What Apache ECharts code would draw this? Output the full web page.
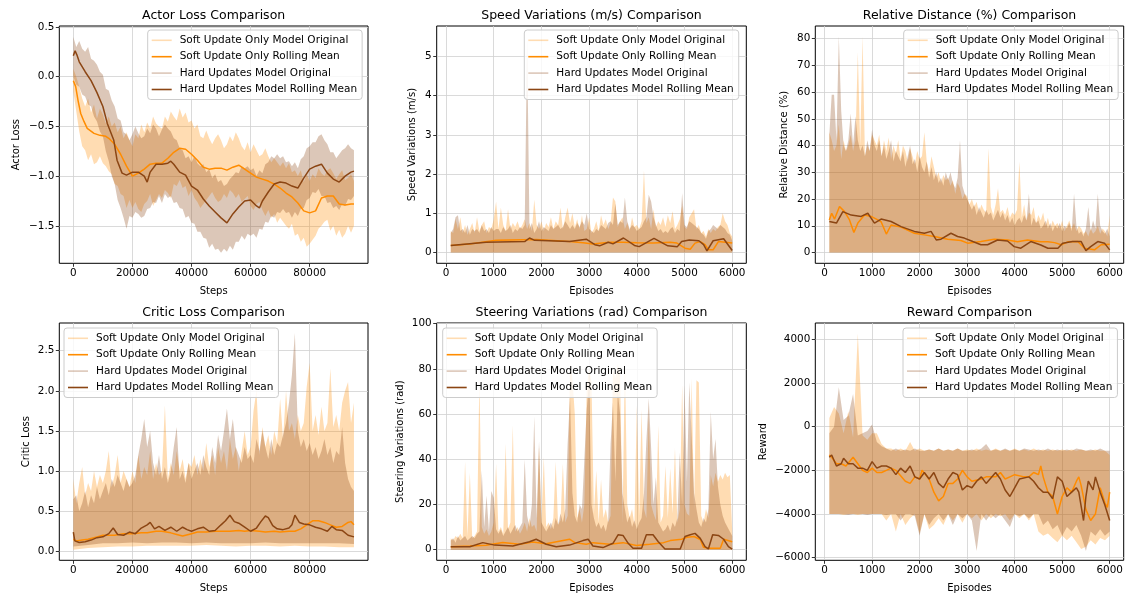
<!DOCTYPE html>
<html><head><meta charset="utf-8">
<script src="https://cdn.jsdelivr.net/npm/echarts@6/dist/echarts.min.js"></script>
<style>html,body{margin:0;padding:0;background:#fff}#c{width:1127px;height:597px}</style>
</head><body><div id="c"></div>
<script>
// ---------- tick labels ----------
const stepTicks = [0, 20000, 40000, 60000, 80000];
const episodeTicks = [0, 1000, 2000, 3000, 4000, 5000, 6000];
const actorTicks = [-1.5, -1.0, -0.5, 0.0, 0.5];
const speedTicks = [0, 1, 2, 3, 4, 5];
const relTicks = [0, 10, 20, 30, 40, 50, 60, 70, 80];
const criticTicks = [0.0, 0.5, 1.0, 1.5, 2.0, 2.5];
const steerTicks = [0, 20, 40, 60, 80, 100];
const rewardTicks = [-6000, -4000, -2000, 0, 2000, 4000];

const seriesNames = ['Soft Update Only Model Original', 'Soft Update Only Rolling Mean', 'Hard Updates Model Original', 'Hard Updates Model Rolling Mean'];

// ---------- sampling grids (x positions) ----------
function grid(a, b, s) { const r = []; for (let v = a; v <= b; v += s) r.push(v); return r; }
const stepsX1000 = grid(0, 95000, 1000);
const stepsX5000 = grid(0, 95000, 5000);
const episodesX50 = grid(100, 6000, 50);
const episodesX100 = grid(100, 6000, 100);

// ---------- Actor loss ----------
const actorSoftUpper = [0.08,0.0,-0.1,-0.22,-0.3,-0.22,-0.36,-0.28,-0.42,-0.32, -0.38,-0.47,-0.4,-0.5,-0.46,-0.56,-0.5,-0.62,-0.56,-0.64, -0.7,-0.58,-0.62,-0.48,-0.56,-0.46,-0.52,-0.4,-0.47,-0.5, -0.52,-0.4,-0.45,-0.35,-0.4,-0.44,-0.32,-0.41,-0.36,-0.46, -0.44,-0.52,-0.48,-0.6,-0.62,-0.54,-0.62,-0.68,-0.62,-0.58, -0.64,-0.72,-0.68,-0.6,-0.65,-0.56,-0.62,-0.7,-0.74,-0.66, -0.76,-0.68,-0.74,-0.8,-0.78,-0.72,-0.8,-0.86,-0.82,-0.86, -0.9,-0.86,-0.92,-0.87,-0.96,-0.94,-1.0,-0.94,-1.06,-0.98, -1.05,-0.98,-1.02,-0.92,-0.97,-1.0,-0.94,-0.92,-0.97,-1.03, -0.98,-0.94,-1.04,-1.02,-0.98,-1.05];
const actorSoftLower = [-0.15,-0.35,-0.55,-0.7,-0.74,-0.84,-0.78,-0.88,-0.86,-0.8, -0.87,-0.9,-0.95,-0.98,-1.08,-1.1,-1.18,-1.2,-1.32,-1.24, -1.32,-1.26,-1.33,-1.36,-1.28,-1.25,-1.18,-1.3,-1.24,-1.18, -1.22,-1.14,-1.17,-1.22,-1.08,-1.1,-1.04,-1.12,-1.1,-1.2, -1.14,-1.22,-1.26,-1.32,-1.28,-1.24,-1.2,-1.16,-1.22,-1.26, -1.24,-1.18,-1.22,-1.14,-1.17,-1.22,-1.18,-1.26,-1.23,-1.2, -1.3,-1.34,-1.28,-1.26,-1.34,-1.4,-1.34,-1.42,-1.38,-1.47, -1.42,-1.46,-1.5,-1.53,-1.48,-1.6,-1.58,-1.66,-1.62,-1.71, -1.68,-1.64,-1.6,-1.53,-1.5,-1.46,-1.44,-1.55,-1.5,-1.6, -1.54,-1.62,-1.58,-1.5,-1.57,-1.5];
const actorHardUpper = [0.4,0.3,0.36,0.28,0.25,0.3,0.18,0.16,0.12,0.05, 0.02,-0.12,-0.14,-0.24,-0.3,-0.42,-0.44,-0.56,-0.58,-0.64, -0.58,-0.5,-0.57,-0.62,-0.6,-0.52,-0.57,-0.48,-0.52,-0.6, -0.53,-0.48,-0.52,-0.55,-0.62,-0.64,-0.72,-0.74,-0.82,-0.8, -0.86,-0.8,-0.87,-0.9,-0.88,-0.96,-0.93,-1.02,-0.98,-1.06, -1.04,-1.1,-1.08,-1.03,-1.0,-0.96,-0.97,-0.9,-0.92,-0.9, -0.94,-0.92,-1.0,-0.94,-0.97,-0.88,-0.86,-0.8,-0.82,-0.78, -0.82,-0.8,-0.86,-0.85,-0.9,-0.86,-0.92,-0.83,-0.8,-0.72, -0.7,-0.66,-0.66,-0.6,-0.58,-0.64,-0.68,-0.76,-0.76,-0.82, -0.78,-0.74,-0.72,-0.68,-0.72,-0.74];
const actorHardLower = [0.0,-0.08,-0.1,-0.18,-0.2,-0.28,-0.3,-0.4,-0.45,-0.55, -0.6,-0.75,-0.85,-1.0,-1.08,-1.24,-1.32,-1.42,-1.53,-1.4, -1.42,-1.36,-1.38,-1.42,-1.4,-1.33,-1.32,-1.26,-1.27,-1.2, -1.27,-1.18,-1.22,-1.2,-1.27,-1.26,-1.32,-1.33,-1.42,-1.4, -1.47,-1.48,-1.56,-1.56,-1.62,-1.63,-1.72,-1.68,-1.74,-1.73, -1.77,-1.73,-1.76,-1.7,-1.74,-1.66,-1.66,-1.6,-1.64,-1.58, -1.6,-1.58,-1.62,-1.53,-1.54,-1.46,-1.47,-1.4,-1.42,-1.36, -1.37,-1.33,-1.37,-1.36,-1.42,-1.36,-1.4,-1.33,-1.32,-1.24, -1.22,-1.16,-1.17,-1.13,-1.2,-1.2,-1.27,-1.26,-1.32,-1.3, -1.34,-1.28,-1.3,-1.23,-1.24,-1.2];
const actorSoftMean = [[0,-0.04],[800,-0.1],[1600,-0.24],[2500,-0.37],[3600,-0.45],[4700,-0.52],[7000,-0.57],[9000,-0.59],[11000,-0.6],[12000,-0.62],[14000,-0.68],[16000,-0.78],[18000,-0.9],[20000,-1.0],[22000,-0.97],[24000,-0.93],[26000,-0.88],[28000,-0.87],[30000,-0.87],[32000,-0.82],[34000,-0.76],[36000,-0.72],[38000,-0.73],[40000,-0.78],[42000,-0.84],[44000,-0.91],[46000,-0.93],[48000,-0.92],[50000,-0.92],[52000,-0.94],[54000,-0.91],[56000,-0.89],[58000,-0.93],[60000,-0.97],[62000,-1.01],[64000,-1.03],[66000,-1.05],[68000,-1.08],[70000,-1.12],[72000,-1.17],[74000,-1.21],[76000,-1.27],[78000,-1.35],[80000,-1.37],[82000,-1.35],[84000,-1.22],[86000,-1.2],[88000,-1.2],[90000,-1.28],[92000,-1.29],[94000,-1.28],[95000,-1.28]];
const actorHardMean = [[0,0.21],[600,0.26],[1200,0.22],[2000,0.15],[4000,0.05],[6000,-0.04],[8000,-0.16],[10000,-0.3],[11500,-0.47],[13700,-0.64],[14800,-0.84],[16500,-0.97],[18000,-0.99],[20000,-0.96],[22000,-0.96],[24000,-1.0],[25000,-1.06],[26000,-0.96],[28000,-0.88],[30000,-0.88],[32000,-0.87],[33000,-0.85],[34000,-0.88],[36000,-0.96],[38000,-0.99],[40000,-1.1],[42000,-1.14],[44000,-1.23],[46000,-1.3],[48000,-1.36],[50000,-1.42],[52000,-1.47],[54000,-1.38],[56000,-1.31],[58000,-1.25],[60000,-1.24],[62000,-1.3],[63000,-1.32],[64000,-1.25],[66000,-1.16],[68000,-1.08],[70000,-1.06],[72000,-1.07],[74000,-1.1],[76000,-1.12],[78000,-1.02],[80000,-0.93],[82000,-0.9],[84000,-0.88],[86000,-0.97],[88000,-1.03],[90000,-1.06],[92000,-1.0],[94000,-0.96],[95000,-0.95]];

// ---------- Speed variations ----------
const speedSoftUpper = [0.55,0.5,0.85,0.6,0.9,0.5,0.7,0.45,0.6,0.75, 0.5,0.9,0.55,0.7,0.8,0.5,0.65,0.6,0.85,1.3, 0.6,1.15,0.7,0.55,1.1,0.6,0.75,0.65,0.8,0.6, 0.7,0.85,0.6,0.75,0.55,1.35,0.7,0.6,0.8,0.55, 0.75,0.65,0.9,0.6,0.8,0.7,1.15,0.6,0.9,1.15, 0.75,1.0,0.65,0.85,0.6,0.95,0.55,0.6,0.9,0.5, 0.6,0.8,0.55,0.95,0.7,0.85,0.6,0.75,1.4,1.3, 0.65,0.8,0.9,0.6,0.75,0.55,0.9,0.65,0.7,0.6, 0.8,2.1,0.75,0.9,0.6,1.1,0.65,0.8,0.7,0.9, 0.65,0.95,0.75,1.05,0.6,0.7,0.85,1.2,0.65,0.6, 0.9,1.0,1.1,0.6,0.7,0.5,0.55,0.4,0.6,0.5, 0.6,0.55,0.65,0.7,1.0,0.8,0.7,0.5,0.4];
const speedHardUpper = [0.5,0.6,0.9,0.95,0.55,0.6,0.5,0.7,0.45,0.6, 0.55,0.6,0.5,0.7,0.55,0.6,0.5,0.65,0.55,0.6, 0.6,0.5,0.65,0.55,0.6,0.7,0.5,0.6,0.55,0.65, 0.6,0.7,5.5,0.6,0.75,0.5,0.6,0.8,0.55,0.65, 0.6,0.55,0.7,0.6,0.65,0.7,0.6,0.65,0.8,0.7, 0.6,0.7,0.6,0.75,0.65,0.8,0.7,1.0,0.6,0.55, 0.5,0.6,0.55,0.7,0.65,0.6,0.75,0.8,0.7,1.25, 0.7,0.8,0.75,1.4,0.8,0.6,0.7,0.65,0.55,0.6, 0.65,0.8,0.9,1.47,1.3,0.9,0.7,0.55,0.6,0.5, 0.55,0.5,0.6,0.65,0.5,0.6,0.55,1.51,0.7,0.65, 0.8,0.75,0.7,0.65,0.6,0.5,0.45,0.35,0.55,0.6, 0.7,0.65,0.6,0.7,0.65,0.6,0.5,0.45,0.3];
const speedSoftMean = [[100,0.18],[500,0.22],[1050,0.31],[1890,0.33],[2590,0.28],[2870,0.25],[3080,0.22],[3430,0.26],[3710,0.26],[4000,0.25],[4340,0.24],[4700,0.26],[4840,0.24],[5010,0.11],[5120,0.085],[5220,0.24],[5330,0.28],[5430,0.2],[5500,0.07],[5600,0.07],[5710,0.28],[6000,0.24]];
const speedHardMean = [[100,0.18],[840,0.26],[1650,0.28],[1750,0.37],[1860,0.31],[2590,0.28],[2940,0.34],[3120,0.2],[3220,0.17],[3400,0.26],[3500,0.22],[3720,0.37],[3950,0.18],[4050,0.15],[4360,0.36],[4650,0.17],[4850,0.15],[4940,0.28],[5100,0.32],[5300,0.3],[5400,0.2],[5470,0.04],[5600,0.3],[5820,0.35],[6000,0.05]];

// ---------- Relative distance ----------
const relSoftUpper = [45,42,38,40,48,35,42,38,40,44, 38,42,75,40,81,36,40,38,44,42, 40,44,36,42,38,43,35,40,37,42, 35,40,38,34,39,36,33,38,35,36, 45,34,30,36,32,28,30,26,29,27, 28,25,27,22,26,24,20,22,21,18, 20,17,19,15,18,16,15,39,17,14, 18,24,15,16,14,17,13,15,14,16, 34,13,18,12,15,14,17,11,14,12, 15,10,13,9,12,10,11,9,12,8, 10,12,9,11,8,10,9,7,8,6, 9,7,8,10,7,9,8,6,14];
const relHardUpper = [44,59,59,42,81,53,40,38,42,52, 40,51,42,38,40,36,42,38,46,40, 38,42,36,40,35,38,42,34,38,36, 34,38,32,36,40,33,35,30,36,32, 30,34,28,32,27,30,26,28,25,30, 27,30,26,24,28,42,25,22,20,18, 16,18,14,17,15,13,16,14,15,12, 14,16,13,15,12,14,11,13,10,12, 13,11,14,12,22,10,13,11,12,9, 10,12,9,11,8,10,9,11,8,10, 9,11,8,22,10,7,8,6,9,17, 8,12,9,22,10,8,7,9,6];
const relSoftMean = [[100,12.2],[150,14.7],[210,12.5],[315,17.2],[420,15.3],[525,12.2],[617,7.5],[700,11],[840,14],[980,13.5],[1090,12.5],[1190,11.5],[1300,6.9],[1400,10.3],[1610,9.5],[1890,7.2],[2100,6.6],[2310,6],[2590,5],[2870,4.5],[3010,3.5],[3290,4.1],[3570,5],[3850,4.7],[4060,4],[4270,4.7],[4550,4],[4700,4],[4840,3.7],[4980,2.9],[5120,4],[5330,4.1],[5470,1.6],[5680,1],[5820,2.9],[6000,3.1]];
const relHardMean = [[100,11.6],[250,11],[385,15.3],[560,14],[770,13.5],[910,14.7],[1050,11],[1190,12.5],[1400,11.6],[1610,9.7],[1890,7.9],[2100,7.2],[2240,7.9],[2350,4.7],[2450,5],[2660,7.2],[2800,6],[2940,5.4],[3120,4.1],[3290,2.9],[3430,2.9],[3640,4.7],[3850,4.3],[3990,2.2],[4130,1.6],[4340,4.1],[4550,2.8],[4700,1.6],[4910,1.6],[5010,3.5],[5220,4.1],[5400,4.1],[5500,0.7],[5600,2.2],[5750,4.1],[5890,3.5],[6000,1]];

// ---------- Critic loss ----------
const criticSoftUpper = [0.9,0.6,0.85,1.05,0.7,0.85,0.75,1.0,0.8,0.95, 0.85,1.0,1.25,0.8,0.95,1.2,0.85,1.0,0.9,0.8, 1.0,0.85,1.2,0.9,1.05,0.95,1.25,0.9,1.1,0.95, 1.0,1.82,0.9,1.1,0.95,1.25,1.0,1.15,0.9,1.1, 1.05,1.2,0.95,1.15,1.0,1.35,1.05,1.2,0.95,1.3, 1.1,1.25,1.0,1.4,1.15,1.3,1.0,1.25,1.5,1.2, 1.3,1.75,2.01,1.2,1.55,1.3,1.45,1.2,1.5,1.35, 1.9,1.4,2.0,1.5,1.6,1.4,1.7,1.5,1.6,2.05, 2.35,1.5,1.7,1.45,1.8,1.5,1.6,2.28,1.55,1.7, 1.5,1.85,2.0,2.11,1.6,1.85];
const criticHardUpper = [0.65,0.7,0.5,0.6,0.75,0.55,0.7,0.6,0.8,0.65, 0.75,0.85,0.7,0.9,0.8,0.95,0.85,0.75,0.9,0.8, 0.85,0.95,1.2,1.4,1.65,1.3,1.5,1.1,0.95,1.2, 0.9,1.05,0.85,1.0,1.3,1.55,0.9,1.0,0.85,1.1, 0.9,1.0,1.1,0.95,1.2,1.05,0.95,1.3,1.1,1.45, 1.25,1.5,1.78,1.4,1.65,1.3,1.2,1.1,1.3,1.15, 1.2,1.1,1.4,1.25,1.5,1.3,1.15,1.4,1.2,1.35, 1.3,1.45,1.6,1.85,2.2,2.72,1.5,1.3,1.4,1.25, 1.35,1.2,1.3,1.15,1.25,1.4,1.2,1.3,1.1,1.25, 1.2,1.55,1.1,0.9,0.8,0.75];
const criticSoftLower = [0.02,0.04,0.05,0.06,0.06,0.07,0.07,0.07,0.07,0.08,0.07,0.06,0.07,0.07,0.06,0.07,0.06,0.06,0.05,0.05];
const criticHardLower = [0.06,0.08,0.1,0.1,0.11,0.1,0.11,0.11,0.1,0.11,0.1,0.1,0.1,0.11,0.1,0.1,0.1,0.1,0.1,0.09];
const criticSoftMean = [[0,0.15],[1000,0.13],[3000,0.14],[5000,0.15],[8000,0.18],[10000,0.2],[14000,0.2],[17000,0.22],[20000,0.22],[23000,0.23],[25000,0.23],[28000,0.25],[30000,0.25],[33000,0.23],[35000,0.21],[37000,0.19],[40000,0.22],[42000,0.24],[45000,0.24],[48000,0.25],[50000,0.25],[53000,0.25],[56000,0.26],[58000,0.25],[60000,0.26],[63000,0.25],[65000,0.24],[68000,0.25],[70000,0.24],[73000,0.25],[75000,0.25],[77000,0.28],[79000,0.33],[81000,0.38],[83000,0.38],[85000,0.36],[87000,0.33],[89000,0.3],[91000,0.31],[93000,0.36],[94000,0.37],[95000,0.33]];
const criticHardMean = [[0,0.24],[500,0.13],[2000,0.11],[4000,0.12],[6000,0.14],[8000,0.17],[10000,0.18],[12000,0.22],[13500,0.29],[15000,0.21],[17000,0.2],[19000,0.24],[21000,0.22],[23000,0.29],[25000,0.33],[26000,0.36],[27500,0.28],[29000,0.31],[31000,0.26],[33000,0.3],[35000,0.25],[37000,0.3],[38500,0.27],[40000,0.25],[42000,0.28],[44000,0.3],[46000,0.25],[48000,0.26],[50000,0.33],[51500,0.38],[53000,0.45],[54500,0.37],[56000,0.35],[58000,0.3],[60000,0.25],[62000,0.29],[63500,0.37],[65000,0.44],[66000,0.42],[67500,0.32],[69000,0.28],[71000,0.27],[73000,0.29],[74000,0.33],[75000,0.45],[76500,0.36],[78000,0.34],[80000,0.33],[82000,0.3],[84000,0.28],[86000,0.25],[87500,0.31],[89000,0.27],[91000,0.26],[93000,0.2],[95000,0.18]];

// ---------- Steering variations ----------
const steerSoftUpper = [5,4,6,5,7,5,39,6,34,5, 6,8,76,10,7,9,6,8,12,38, 8,10,7,47,9,12,55,8,10,7, 9,12,8,14,10,11,8,46,12,41, 10,12,9,14,39,11,13,38,12,15, 82,76,60,14,18,12,20,72,80,74, 16,35,12,31,14,18,12,15,80,76, 82,78,12,85,20,14,18,11,64,15, 62,18,14,60,20,16,13,55,12,15, 37,14,36,16,45,12,18,73,20,16, 15,76,18,75,74,15,12,18,14,33, 28,34,30,33,31,34,32,33,8];
const steerHardUpper = [4,5,3,6,4,5,6,4,5,6, 5,7,8,35,10,24,8,26,23,9, 7,9,6,8,10,7,9,11,8,10, 12,40,15,10,20,59,14,48,12,10, 8,10,12,9,14,11,16,12,18,47, 68,25,15,12,20,18,40,62,75,20, 14,10,12,9,11,8,13,47,65,30, 70,60,25,18,12,15,10,13,9,12, 14,25,48,67,45,20,32,12,10,8, 9,11,8,12,10,14,43,20,73,30, 74,50,25,18,12,10,14,12,18,61, 40,49,28,20,15,12,10,8,6];
const steerSoftMean = [[100,1.3],[500,1.6],[840,1.9],[1190,3.2],[1540,2.4],[1820,3.4],[2100,2.6],[2590,4.6],[2700,3.1],[2940,2.4],[3080,3.1],[3430,2.4],[3710,3.1],[3990,1.8],[4270,2.4],[4560,3.1],[4700,4],[4940,4.6],[5050,5.5],[5200,5.8],[5330,4.5],[5400,1],[5500,0.6],[5750,0.6],[5820,4.6],[6000,3.5]];
const steerHardMean = [[100,1.3],[500,1.3],[770,3.1],[1020,2],[1400,1.6],[1750,3.5],[1890,4.6],[2100,2.4],[2310,1.3],[2590,2],[2870,4],[2980,4.6],[3080,1.6],[3290,0.9],[3500,2.8],[3610,6.6],[3710,6.3],[3820,2.8],[3920,0.6],[4100,0.6],[4200,6.6],[4340,6.6],[4450,3.5],[4590,0.3],[4910,0.3],[5010,5.8],[5120,6.6],[5220,7.2],[5330,5],[5430,1.3],[5500,0.3],[5590,6.6],[5710,6.3],[5820,4.6],[5920,1.3],[6000,0.2]];

// ---------- Reward ----------
const rewSoftUpper = [400,900,600,-300,700,-500,4270,-400,-600,-300, -300,-800,-1000,-1000,-1100,-1000,-1100,-700,-1100,-1000, -1100,-1050,-1100,-1000,-1100,-1050,-1100,-1000,-1100,-1050, -1100,-1000,-1100,-1050,-1100,-1000,-1100,-1050,-1100,-1000, -1100,-1050,-1100,-1000,-1100,-1050,-1100,-1050,-1100,-1050, -1100,-1050,-1100,-1050,-1100,-1100,-1050,-1100,-1100,-1300];
const rewSoftLower = [-4000,-4000,-4000,-4050,-4000,-4000,-4050,-4000,-4000,-4000, -4000,-4000,-4300,-4000,-4800,-4000,-4500,-4200,-4000,-4900, -4000,-4700,-4500,-4200,-4500,-4000,-4300,-4000,-4400,-4000, -4200,-4000,-4300,-4000,-4200,-4000,-4100,-4000,-4300,-4000, -4200,-4000,-4300,-4000,-4800,-5000,-4900,-5100,-5300,-5000, -5200,-5000,-5300,-5600,-5500,-5200,-5400,-5100,-5200,-5000];
const rewHardUpper = [-300,0,1800,300,500,1500,-400,-300,-200,100, -700,-900,-1000,-1100,-1000,-1100,-1050,-1100,-1000,-1100, -1100,-1050,-1100,-1000,-1100,-1050,-1100,-1000,-1100,-1100, -1050,-1100,-1000,-800,-1100,-1050,-1100,-1000,-1100,-1050, -1100,-1000,-1050,-1100,-1050,-1100,-1000,-1100,-1050,-1100, -1050,-1100,-1000,-1050,-1100,-1050,-1100,-1000,-1100,-1100];
const rewHardLower = [-4000,-4000,-4000,-4000,-4050,-4000,-4000,-4000,-4050,-4000, -4000,-4000,-4050,-4000,-4000,-4300,-4000,-4000,-4100,-5000, -4000,-4500,-4200,-4000,-4300,-4000,-4500,-4000,-4200,-4000, -4300,-5700,-4000,-4300,-4000,-4200,-4000,-4300,-4600,-4000, -4100,-4000,-4200,-4000,-4000,-4500,-4300,-4700,-4500,-5000, -4600,-4800,-4500,-5000,-5700,-4800,-5000,-4700,-5000,-4800];
const rewSoftMean = [[100,-1300],[150,-1400],[250,-1700],[350,-1700],[450,-1800],[600,-1400],[700,-1700],[800,-2000],[900,-2100],[1000,-1900],[1100,-2100],[1200,-2100],[1300,-2000],[1400,-1900],[1500,-2000],[1700,-2500],[1800,-2600],[1900,-2300],[2000,-2400],[2050,-2000],[2200,-2400],[2300,-3000],[2400,-3400],[2500,-3200],[2600,-2600],[2700,-2600],[2800,-2400],[2900,-2000],[3000,-2300],[3100,-2500],[3300,-2400],[3400,-2300],[3600,-2300],[3700,-2100],[3800,-2400],[3900,-2300],[4000,-2200],[4200,-2300],[4300,-2300],[4400,-2100],[4500,-2200],[4550,-1800],[4600,-2300],[4700,-3000],[4800,-3200],[4900,-4000],[5000,-3200],[5100,-2800],[5200,-3000],[5300,-2500],[5350,-2300],[5400,-2700],[5500,-3800],[5600,-4300],[5700,-4000],[5800,-2800],[5900,-3500],[5950,-3700],[6000,-3000]];
const rewHardMean = [[100,-1400],[150,-1300],[250,-1800],[350,-1700],[400,-1450],[500,-1700],[600,-1700],[700,-1900],[800,-1900],[900,-2000],[1000,-1600],[1100,-1900],[1200,-1800],[1300,-1800],[1400,-1900],[1500,-2200],[1600,-1900],[1700,-2100],[1800,-1800],[1900,-2300],[2000,-2400],[2100,-2100],[2200,-2400],[2300,-2100],[2400,-2600],[2500,-2800],[2600,-2400],[2700,-2100],[2800,-2200],[2900,-2900],[3000,-2700],[3100,-2800],[3200,-2500],[3300,-2300],[3400,-2600],[3600,-2100],[3700,-2400],[3800,-2900],[3900,-3200],[4000,-2800],[4100,-2400],[4300,-2300],[4400,-2500],[4500,-2800],[4600,-3000],[4700,-3000],[4800,-3300],[4900,-2300],[5000,-2500],[5100,-3200],[5200,-3000],[5300,-2800],[5350,-3000],[5450,-4300],[5500,-3200],[5550,-2500],[5650,-2900],[5700,-2300],[5800,-3000],[5900,-3600],[6000,-4300]];

// ---------- build ----------
const FONT = 'DejaVu Sans';
const C_SOFT_O = 'rgba(255,140,0,0.3)', C_SOFT = '#ff8c00', C_HARD_O = 'rgba(139,69,19,0.3)', C_HARD = '#8b4513';
function zip(xs, ys) { const n = Math.min(xs.length, ys.length); const r = []; for (let i = 0; i < n; i++) r.push([xs[i], ys[i]]); return r; }
const signed = d => v => (v < 0 ? '\u2212' : '') + Math.abs(v).toFixed(d);
const base0 = [[100, 0], [6000, 0]];

const panels = [
  { title: 'Actor Loss Comparison', l: 59.3, t: 26, w: 308.7, xr: [-4750, 99750], xt: stepTicks, xn: 'Steps', yr: [-1.877, 0.51], yt: actorTicks, yf: signed(1), yn: 'Actor Loss', yg: 38, lg: [147.7, 30],
    bands: [[zip(stepsX1000, actorSoftUpper), zip(stepsX1000, actorSoftLower)], [zip(stepsX1000, actorHardUpper), zip(stepsX1000, actorHardLower)]], means: [actorSoftMean, actorHardMean] },
  { title: 'Speed Variations (m/s) Comparison', l: 436.7, t: 26, w: 309.6, xr: [-195, 6295], xt: episodeTicks, xn: 'Episodes', yr: [-0.275, 5.775], yt: speedTicks, yf: signed(0), yn: 'Speed Variations (m/s)', yg: 19, lg: [524.3, 30],
    bands: [[zip(episodesX50, speedSoftUpper), base0], [zip(episodesX50, speedHardUpper), base0]], means: [speedSoftMean, speedHardMean] },
  { title: 'Relative Distance (%) Comparison', l: 815.3, t: 26, w: 308.4, xr: [-195, 6295], xt: episodeTicks, xn: 'Episodes', yr: [-4.03, 84.7], yt: relTicks, yf: signed(0), yn: 'Relative Distance (%)', yg: 26, lg: [903.7, 30],
    bands: [[zip(episodesX50, relSoftUpper), base0], [zip(episodesX50, relHardUpper), base0]], means: [relSoftMean, relHardMean] },
  { title: 'Critic Loss Comparison', l: 59.3, t: 323, w: 308.7, xr: [-4750, 99750], xt: stepTicks, xn: 'Steps', yr: [-0.112, 2.845], yt: criticTicks, yf: signed(1), yn: 'Critic Loss', yg: 28, lg: [64, 328],
    bands: [[zip(stepsX1000, criticSoftUpper), zip(stepsX5000, criticSoftLower)], [zip(stepsX1000, criticHardUpper), zip(stepsX5000, criticHardLower)]], means: [criticSoftMean, criticHardMean] },
  { title: 'Steering Variations (rad) Comparison', l: 436.7, t: 323, w: 309.6, xr: [-195, 6295], xt: episodeTicks, xn: 'Episodes', yr: [-4.72, 100.3], yt: steerTicks, yf: signed(0), yn: 'Steering Variations (rad)', yg: 31, lg: [442.7, 328],
    bands: [[zip(episodesX50, steerSoftUpper), base0], [zip(episodesX50, steerHardUpper), base0]], means: [steerSoftMean, steerHardMean] },
  { title: 'Reward Comparison', l: 815.3, t: 323, w: 308.4, xr: [-195, 6295], xt: episodeTicks, xn: 'Episodes', yr: [-6122, 4748], yt: rewardTicks, yf: signed(0), yn: 'Reward', yg: 47, lg: [903, 328],
    bands: [[zip(episodesX100, rewSoftUpper), zip(episodesX100, rewSoftLower)], [zip(episodesX100, rewHardUpper), zip(episodesX100, rewHardLower)]], means: [rewSoftMean, rewHardMean] }
];
const H = 237.3;
const txt = { fontFamily: FONT, fontSize: 10, color: '#000' };
const tickTxt = { fontFamily: FONT, fontSize: 10.4, color: '#000' };

const option = { animation: false, backgroundColor: '#fff', title: [], grid: [], xAxis: [], yAxis: [], legend: [], series: [] };

function bandSeries(name, color, idx, upper, lower) {
  return {
    type: 'custom', name, xAxisIndex: idx, yAxisIndex: idx, coordinateSystem: 'cartesian2d', clip: true, silent: true,
    itemStyle: { color }, data: [upper[0]],
    renderItem: function (params, api) {
      if (params.dataIndex !== 0) return null;
      const pts = upper.map(p => api.coord(p));
      for (let k = lower.length - 1; k >= 0; k--) pts.push(api.coord(lower[k]));
      return { type: 'polygon', shape: { points: pts }, style: { fill: color, stroke: null } };
    }
  };
}
function meanSeries(name, color, idx, data) {
  return { type: 'line', name, xAxisIndex: idx, yAxisIndex: idx, data, symbol: 'none', showSymbol: false, silent: true,
    lineStyle: { color, width: 1.5 }, itemStyle: { color }, clip: true };
}

panels.forEach((p, i) => {
  option.title.push({ text: p.title, left: p.l + p.w / 2, top: p.t - 16.5, textAlign: 'center', padding: 0,
    textStyle: { fontFamily: FONT, fontSize: 12.5, fontWeight: 'normal', color: '#000' } });
  option.grid.push({ left: p.l, top: p.t, width: p.w, height: H, show: true, borderColor: '#000', borderWidth: 1, backgroundColor: 'transparent', containLabel: false, outerBoundsMode: 'none' });
  option.xAxis.push({ gridIndex: i, type: 'value', min: p.xr[0], max: p.xr[1], name: p.xn, nameLocation: 'middle', nameGap: 23, nameTextStyle: txt,
    axisLine: { show: false, onZero: false }, axisTick: { show: true, length: 3.5, customValues: p.xt, lineStyle: { color: '#000', width: 0.8 } },
    axisLabel: { customValues: p.xt, formatter: v => String(v), margin: 5, ...tickTxt, showMinLabel: true, showMaxLabel: true },
    splitLine: { show: true, lineStyle: { color: '#d0d0d0', width: 0.8 } } });
  option.yAxis.push({ gridIndex: i, type: 'value', min: p.yr[0], max: p.yr[1], name: p.yn, nameLocation: 'middle', nameGap: p.yg, nameTextStyle: txt,
    axisLine: { show: false, onZero: false }, axisTick: { show: true, length: 3.5, customValues: p.yt, lineStyle: { color: '#000', width: 0.8 } },
    axisLabel: { customValues: p.yt, formatter: p.yf, margin: 5, ...tickTxt },
    splitLine: { show: true, lineStyle: { color: '#d0d0d0', width: 0.8 } } });
  const colors = [C_SOFT_O, C_SOFT, C_HARD_O, C_HARD];
  option.legend.push({ orient: 'vertical', left: p.lg[0], top: p.lg[1], selectedMode: false, icon: 'rect', itemWidth: 20, itemHeight: 1.6, itemGap: 5.4,
    padding: [4.8, 5, 4.5, 4], backgroundColor: 'rgba(255,255,255,0.8)', borderColor: '#cccccc', borderWidth: 1, borderRadius: 3,
    textStyle: { fontFamily: FONT, fontSize: 10.5, color: '#000', padding: [0, 0, 0, 3] },
    data: seriesNames.map((n, k) => ({ name: n, itemStyle: { color: colors[k] } })) });
  option.series.push(bandSeries(seriesNames[0], C_SOFT_O, i, p.bands[0][0], p.bands[0][1]));
  option.series.push(meanSeries(seriesNames[1], C_SOFT, i, p.means[0]));
  option.series.push(bandSeries(seriesNames[2], C_HARD_O, i, p.bands[1][0], p.bands[1][1]));
  option.series.push(meanSeries(seriesNames[3], C_HARD, i, p.means[1]));
});

const chart = echarts.init(document.getElementById('c'), null, { renderer: 'canvas' });
chart.setOption(option);
</script></body></html>
